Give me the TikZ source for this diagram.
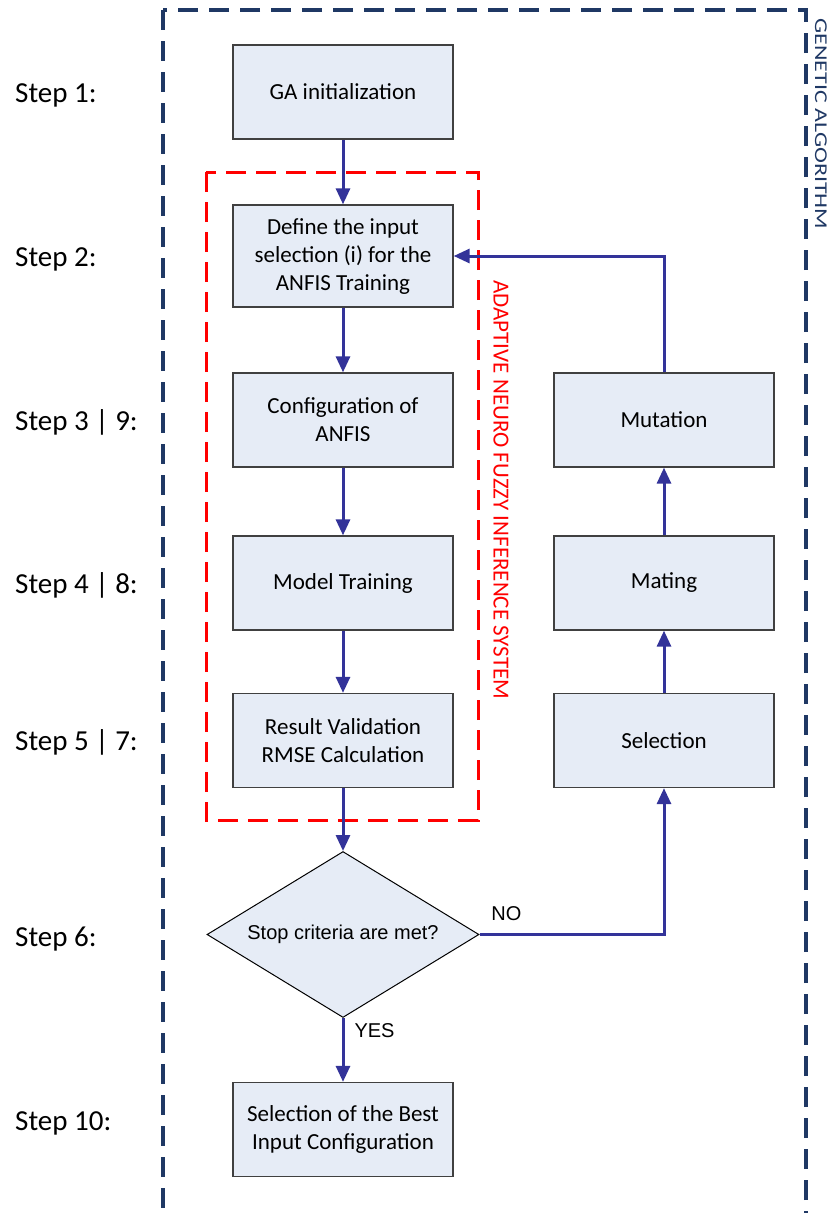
\documentclass[tikz,border=0pt]{standalone}
\usepackage{graphicx}
\usepackage{fontspec}
\setmainfont{Carlito}
\newfontfamily\arialfont{Liberation Sans}
\usetikzlibrary{arrows.meta,shapes.geometric}

\definecolor{gaNavy}{RGB}{31,56,100}
\definecolor{flowBlue}{RGB}{51,51,153}
\definecolor{boxFill}{RGB}{230,236,246}
\definecolor{boxLine}{RGB}{64,64,64}

\begin{document}
\begin{tikzpicture}[x=1pt,y=-1pt,
    procbox/.style={draw=boxLine, line width=1.3pt, fill=boxFill, minimum width=220pt,
        minimum height=94pt, align=center, inner sep=2pt, font=\fontsize{23}{28}\selectfont},
    decbox/.style={diamond, aspect=1.64, draw=black, line width=1pt, fill=boxFill, minimum width=272pt,
        minimum height=166pt, inner sep=0pt, font=\arialfont\fontsize{20}{24}\selectfont},
    flow/.style={draw=flowBlue, line width=3pt, -{Triangle[length=16pt,width=14pt]}},
    steplabel/.style={anchor=base west, inner sep=0pt, font=\fontsize{29}{34}\selectfont},
    ynlabel/.style={inner sep=0pt, font=\arialfont\fontsize{20}{24}\selectfont}]
        \clip (0,0) rectangle (839,1213);

        % frames
        \draw[gaNavy, line width=3.3pt, dash pattern=on 20pt off 11pt] (163,10) rectangle (806,1260);
        \draw[red, line width=3pt, dash pattern=on 20pt off 10pt] (206,172) rectangle (478,820);
        \node[rotate=-90, text=gaNavy, inner sep=0pt] (galabel) at (821,124)
            {\scalebox{1}[0.75]{\fontsize{24}{24}\selectfont GENETIC ALGORITHM}};
        \node[rotate=-90, text=red, inner sep=0pt, font=\fontsize{23}{23}\selectfont] (anfislabel)
            at (501,490) {ADAPTIVE NEURO FUZZY INFERENCE SYSTEM};

        % left column
        \node[procbox] (ga) at (343,92) {GA initialization};
        \node[procbox, minimum height=102pt] (def) at (343,256) {Define the input\\selection (i) for the\\ANFIS Training};
        \node[procbox] (cfg) at (343,420) {Configuration of\\ANFIS};
        \node[procbox] (train) at (343,583) {Model Training};
        \node[procbox] (valid) at (343,740.5) {Result Validation\\RMSE Calculation};
        \node[decbox] (stop) at (343,934.5) {Stop criteria are met?};
        \node[procbox] (best) at (343,1129.5) {Selection of the Best\\Input Configuration};

        % right column
        \node[procbox] (mut) at (664,420) {Mutation};
        \node[procbox] (mate) at (664,583) {Mating};
        \node[procbox] (sel) at (664,740.5) {Selection};

        % steps
        \node[steplabel] (s1) at (15,102) {Step 1:};
        \node[steplabel] (s2) at (15,266) {Step 2:};
        \node[steplabel] (s3) at (15,430) {Step 3 | 9:};
        \node[steplabel] (s4) at (15,593) {Step 4 | 8:};
        \node[steplabel] (s5) at (15,750) {Step 5 | 7:};
        \node[steplabel] (s6) at (15,946) {Step 6:};
        \node[steplabel] (s10) at (15,1130) {Step 10:};

        % connectors
        \draw[flow] (ga) -- (def);
        \draw[flow] (def) -- (cfg);
        \draw[flow] (cfg) -- (train);
        \draw[flow] (train) -- (valid);
        \draw[flow] (valid) -- (stop);
        \draw[flow] (stop) -- node[ynlabel, pos=0.2, anchor=west, xshift=10pt] (yes) {YES} (best);
        \draw[flow] (stop.east) -| node[ynlabel, pos=0.073, anchor=south, yshift=12pt] (no) {NO} (sel.south);
        \draw[flow] (sel) -- (mate);
        \draw[flow] (mate) -- (mut);
        \draw[flow] (mut.north) |- (def.east);
    \end{tikzpicture}
\end{document}
